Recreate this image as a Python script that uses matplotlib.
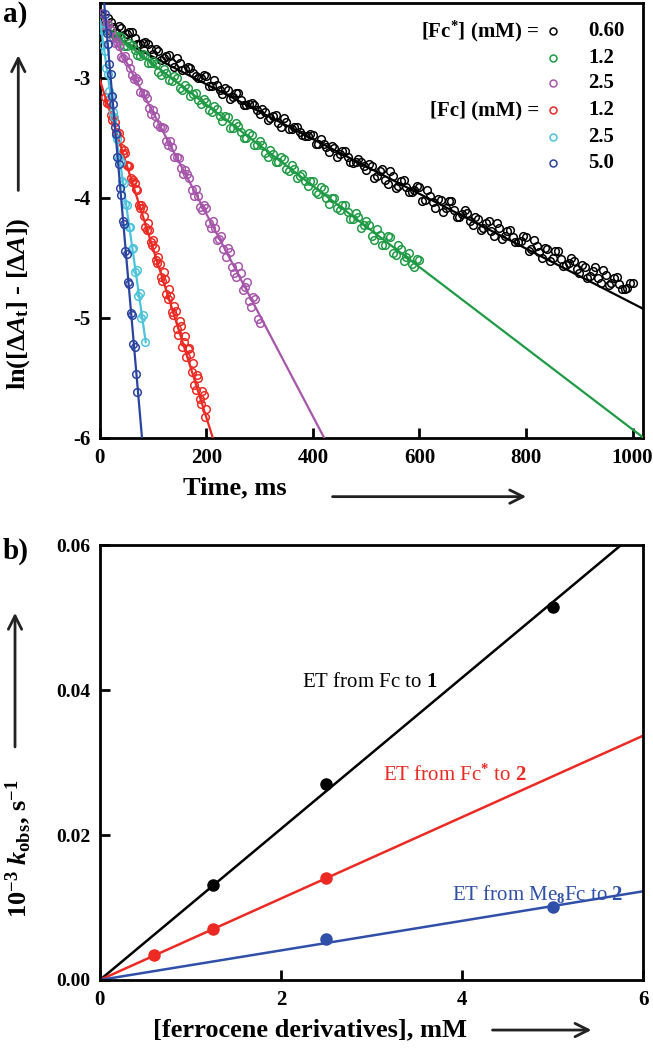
import numpy as np
import matplotlib
matplotlib.use("Agg")
import matplotlib.pyplot as plt
from matplotlib.patches import FancyArrowPatch

plt.rcParams['font.family'] = ['Liberation Serif', 'DejaVu Serif']
plt.rcParams['font.weight'] = 'bold'
plt.rcParams['axes.unicode_minus'] = False
plt.rcParams['mathtext.fontset'] = 'custom'
plt.rcParams['mathtext.rm'] = 'Liberation Serif'
plt.rcParams['mathtext.it'] = 'Liberation Serif:italic:bold'
plt.rcParams['mathtext.bf'] = 'Liberation Serif:bold'

# ---- panel a: ln(dA) decays (two interleaved read-offs per trace) ----
t_black = [0, 10, 20, 30, 40, 50, 60, 70, 80, 90, 100, 110, 120, 130, 140, 150, 160, 170, 180, 190,
           200, 210, 220, 230, 240, 250, 260, 270, 280, 290, 300, 310, 320, 330, 340, 350, 360, 370, 380, 390,
           400, 410, 420, 430, 440, 450, 460, 470, 480, 490, 500, 510, 520, 530, 540, 550, 560, 570, 580, 590,
           600, 610, 620, 630, 640, 650, 660, 670, 680, 690, 700, 710, 720, 730, 740, 750, 760, 770, 780, 790,
           800, 810, 820, 830, 840, 850, 860, 870, 880, 890, 900, 910, 920, 930, 940, 950, 960, 970, 980, 990, 1000]
y_black = [-2.47, -2.55, -2.54, -2.62, -2.59, -2.64, -2.62, -2.72, -2.71, -2.72,
           -2.80, -2.78, -2.84, -2.81, -2.91, -2.88, -2.93, -2.92, -2.99, -3.00,
           -2.99, -3.07, -3.06, -3.14, -3.10, -3.16, -3.13, -3.23, -3.22, -3.23,
           -3.30, -3.29, -3.34, -3.31, -3.41, -3.37, -3.43, -3.41, -3.48, -3.49,
           -3.48, -3.55, -3.55, -3.62, -3.59, -3.64, -3.61, -3.70, -3.70, -3.70,
           -3.77, -3.74, -3.82, -3.76, -3.89, -3.82, -3.90, -3.85, -3.95, -3.94,
           -3.91, -4.02, -3.99, -4.09, -4.02, -4.09, -4.03, -4.16, -4.14, -4.13,
           -4.23, -4.18, -4.25, -4.19, -4.32, -4.25, -4.32, -4.27, -4.37, -4.36,
           -4.33, -4.43, -4.40, -4.50, -4.43, -4.50, -4.44, -4.57, -4.54, -4.53,
           -4.63, -4.58, -4.65, -4.58, -4.71, -4.64, -4.71, -4.66, -4.76, -4.75, -4.71]
t_black2 = [5, 15, 25, 35, 45, 55, 65, 75, 85, 95, 105, 115, 125, 135, 145, 155, 165, 175, 185, 195,
            205, 215, 225, 235, 245, 255, 265, 275, 285, 295, 305, 315, 325, 335, 345, 355, 365, 375, 385, 395,
            405, 415, 425, 435, 445, 455, 465, 475, 485, 495, 505, 515, 525, 535, 545, 555, 565, 575, 585, 595,
            605, 615, 625, 635, 645, 655, 665, 675, 685, 695, 705, 715, 725, 735, 745, 755, 765, 775, 785, 795,
            805, 815, 825, 835, 845, 855, 865, 875, 885, 895, 905, 915, 925, 935, 945, 955, 965, 975, 985, 995]
y_black2 = [-2.54, -2.50, -2.58, -2.57, -2.66, -2.62, -2.67, -2.72, -2.70, -2.76,
            -2.76, -2.85, -2.82, -2.88, -2.84, -2.94, -2.91, -2.96, -3.00, -2.98,
            -3.07, -3.02, -3.10, -3.09, -3.18, -3.13, -3.19, -3.23, -3.21, -3.27,
            -3.26, -3.35, -3.32, -3.38, -3.34, -3.43, -3.41, -3.45, -3.49, -3.47,
            -3.55, -3.51, -3.58, -3.57, -3.66, -3.61, -3.66, -3.71, -3.68, -3.74,
            -3.72, -3.84, -3.78, -3.85, -3.78, -3.92, -3.86, -3.91, -3.95, -3.90,
            -4.03, -3.94, -4.04, -4.01, -4.12, -4.03, -4.10, -4.16, -4.10, -4.19,
            -4.16, -4.27, -4.21, -4.28, -4.21, -4.34, -4.28, -4.33, -4.37, -4.32,
            -4.44, -4.35, -4.45, -4.42, -4.53, -4.44, -4.51, -4.56, -4.50, -4.59,
            -4.56, -4.67, -4.61, -4.67, -4.60, -4.73, -4.67, -4.72, -4.76, -4.71]

t_green = [0, 10, 20, 30, 40, 50, 60, 70, 80, 90, 100, 110, 120, 130, 140, 150, 160, 170, 180, 190,
           200, 210, 220, 230, 240, 250, 260, 270, 280, 290, 300, 310, 320, 330, 340, 350, 360, 370, 380, 390,
           400, 410, 420, 430, 440, 450, 460, 470, 480, 490, 500, 510, 520, 530, 540, 550, 560, 570, 580, 590, 600]
y_green = [-2.53, -2.60, -2.60, -2.67, -2.66, -2.74, -2.73, -2.81, -2.80, -2.88,
           -2.86, -2.95, -2.93, -3.02, -2.99, -3.09, -3.06, -3.15, -3.13, -3.22,
           -3.20, -3.29, -3.26, -3.36, -3.33, -3.42, -3.40, -3.50, -3.46, -3.56,
           -3.53, -3.63, -3.60, -3.70, -3.66, -3.76, -3.73, -3.84, -3.80, -3.90,
           -3.86, -3.97, -3.93, -4.05, -4.00, -4.10, -4.06, -4.18, -4.13, -4.25,
           -4.19, -4.32, -4.26, -4.39, -4.32, -4.46, -4.39, -4.53, -4.46, -4.58, -4.52]
t_green2 = [5, 15, 25, 35, 45, 55, 65, 75, 85, 95, 105, 115, 125, 135, 145, 155, 165, 175, 185, 195,
            205, 215, 225, 235, 245, 255, 265, 275, 285, 295, 305, 315, 325, 335, 345, 355, 365, 375, 385, 395,
            405, 415, 425, 435, 445, 455, 465, 475, 485, 495, 505, 515, 525, 535, 545, 555, 565, 575, 585, 595]
y_green2 = [-2.60, -2.56, -2.64, -2.65, -2.74, -2.71, -2.77, -2.82, -2.81, -2.88,
            -2.89, -2.98, -2.96, -3.03, -3.00, -3.10, -3.09, -3.14, -3.19, -3.18,
            -3.27, -3.24, -3.32, -3.32, -3.42, -3.38, -3.45, -3.50, -3.48, -3.56,
            -3.56, -3.66, -3.64, -3.70, -3.68, -3.78, -3.76, -3.82, -3.86, -3.86,
            -3.95, -3.91, -4.00, -4.00, -4.09, -4.06, -4.12, -4.18, -4.16, -4.23,
            -4.23, -4.35, -4.31, -4.39, -4.33, -4.48, -4.43, -4.49, -4.55, -4.51]

t_purple = [4, 12, 20, 28, 36, 44, 52, 60, 68, 76, 84, 92, 100, 108, 116, 124, 132, 140, 148,
            156, 164, 172, 180, 188, 196, 204, 212, 220, 228, 236, 244, 252, 260, 268, 276, 284, 292, 300]
y_purple = [-2.46, -2.57, -2.60, -2.71, -2.74, -2.84, -2.87, -2.98, -3.00, -3.12, -3.14, -3.25, -3.27,
            -3.39, -3.41, -3.53, -3.53, -3.66, -3.67, -3.80, -3.80, -3.94, -3.93, -4.08, -4.06,
            -4.21, -4.19, -4.35, -4.32, -4.49, -4.45, -4.63, -4.57, -4.77, -4.70, -4.91, -4.84, -5.04]
t_purple2 = [8, 16, 24, 32, 40, 48, 56, 64, 72, 80, 88, 96, 104, 112, 120, 128, 136, 144, 152,
             160, 168, 176, 184, 192, 200, 208, 216, 224, 232, 240, 248, 256, 264, 272, 280, 288, 296]
y_purple2 = [-2.55, -2.55, -2.66, -2.70, -2.83, -2.82, -2.92, -3.01, -3.03, -3.13, -3.17, -3.30, -3.32,
             -3.41, -3.42, -3.56, -3.58, -3.66, -3.75, -3.77, -3.84, -3.99, -3.99, -4.10, -4.09,
             -4.25, -4.25, -4.34, -4.43, -4.42, -4.58, -4.66, -4.63, -4.74, -4.86, -4.83, -5.01]

t_red = [10, 15, 20, 25, 30, 35, 40, 45, 50, 55, 60, 65, 70, 75, 80, 85, 90, 95, 100, 105,
         110, 115, 120, 125, 130, 135, 140, 145, 150, 155, 160, 165, 170, 175, 180, 185, 190, 195, 200]
y_red = [-3.16, -3.19, -3.31, -3.33, -3.45, -3.46, -3.59, -3.60, -3.73, -3.74, -3.87, -3.88, -3.94,
         -4.09, -4.09, -4.24, -4.21, -4.37, -4.35, -4.52, -4.49, -4.66, -4.62, -4.80, -4.76, -4.95,
         -4.90, -5.09, -5.03, -5.24, -5.15, -5.26, -5.30, -5.38, -5.60, -5.50, -5.72, -5.64, -5.76]
t_red2 = [12.5, 17.5, 22.5, 27.5, 32.5, 37.5, 42.5, 47.5, 52.5, 57.5, 62.5, 67.5, 72.5, 77.5, 82.5,
          87.5, 92.5, 97.5, 102.5, 107.5, 112.5, 117.5, 122.5, 127.5, 132.5, 137.5, 142.5, 147.5,
          152.5, 157.5, 162.5, 167.5, 172.5, 177.5, 182.5, 187.5, 192.5, 197.5]
y_red2 = [-3.21, -3.22, -3.35, -3.37, -3.47, -3.51, -3.64, -3.63, -3.74, -3.84, -3.85, -3.93, -4.06,
          -4.06, -4.15, -4.27, -4.27, -4.39, -4.42, -4.54, -4.55, -4.69, -4.68, -4.84, -4.82, -4.98,
          -4.94, -5.14, -5.07, -5.20, -5.33, -5.25, -5.45, -5.56, -5.48, -5.68, -5.61, -5.83]

t_cyan = [3, 6, 9, 12, 15, 18, 21, 24, 27, 30, 33, 36, 39, 42, 45, 48, 51, 54, 57, 60,
          63, 66, 69, 72, 75, 78, 81, 84]
y_cyan = [-2.60, -2.73, -2.78, -2.92, -2.97, -3.11, -3.15, -3.29, -3.33, -3.48, -3.51, -3.67, -3.70,
          -3.86, -3.88, -4.05, -4.06, -4.24, -4.24, -4.43, -4.42, -4.62, -4.60, -4.82, -4.79,
          -5.00, -4.98, -5.20]

t_blue = [10, 12.5, 15, 17.5, 20, 22.5, 25, 27.5, 30, 32.5, 35, 37.5, 40, 42.5, 45, 47.5, 50,
          52.5, 55, 57.5, 60, 62.5, 65, 67.5, 70]
y_blue = [-2.47, -2.63, -2.72, -2.89, -2.97, -3.15, -3.22, -3.41, -3.47, -3.66, -3.72, -3.92, -3.98,
          -4.19, -4.22, -4.44, -4.47, -4.70, -4.72, -4.96, -4.98, -5.22, -5.24, -5.47, -5.62]

# fitted lines: intercept, slope (per ms), end time
fit_icpt = [-2.60, -2.55, -2.45, -3.02, -2.52, -1.97]
fit_slope = [-0.00228, -0.00338, -0.00843, -0.01406, -0.0312, -0.0510]
fit_tend = [1020, 1020, 421, 212, 86, 79]

series_t = [t_black + t_black2, t_green + t_green2, t_purple + t_purple2, t_red + t_red2, t_cyan, t_blue]
series_y = [y_black + y_black2, y_green + y_green2, y_purple + y_purple2, y_red + y_red2, y_cyan, y_blue]
colors_a = ['#000000', '#1f9a45', '#a656aa', '#ec2a24', '#4cc3db', '#2b43a0']
conc_labels = ['0.60', '1.2', '2.5', '1.2', '2.5', '5.0']
group_labels = {0: r'[Fc$^{\mathbf{*}}$] (mM) =', 3: '[Fc] (mM) ='}

# ---- panel b: k_obs vs concentration ----
conc_fc = [1.25, 2.5, 5.0]
k_fc = [0.0131, 0.0271, 0.0515]
conc_fcs = [0.6, 1.25, 2.5]
k_fcs = [0.0035, 0.0071, 0.0141]
conc_me8 = [2.5, 5.0]
k_me8 = [0.0056, 0.0101]
slopes_b = [0.01043, 0.00562, 0.00204]
colors_b = ['#000000', '#ec2a24', '#2f4fa8']
labels_b = [r'ET from Fc to $\mathbf{1}$', r'ET from Fc$^{*}$ to $\mathbf{2}$',
            r'ET from Me$_{8}$Fc to $\mathbf{2}$']
label_pos_b = [(2.23, 0.0410), (3.13, 0.0283), (3.89, 0.0118)]

fig = plt.figure(figsize=(6.53, 10.5), dpi=100)
ax1 = fig.add_axes([0.153, 0.583, 0.832, 0.414])
ax2 = fig.add_axes([0.153, 0.0667, 0.832, 0.414])

for ax in (ax1, ax2):
    for s in ax.spines.values():
        s.set_linewidth(2.0)
    ax.tick_params(direction='in', length=7, width=2, labelsize=15, pad=7,
                   top=False, right=False)

# panel a
for i in range(6):
    ax1.plot(series_t[i], series_y[i], 'o', mfc='none', mec=colors_a[i], ms=5.5, mew=1.1,
             zorder=2 + i)
    tt = np.array([0, fit_tend[i]])
    ax1.plot(tt, fit_icpt[i] + fit_slope[i] * tt, '-', color=colors_a[i], lw=1.6, zorder=2 + i)

ax1.set_xlim(0, 1020)
ax1.set_ylim(-6, -2.38)
ax1.set_xticks([0, 200, 400, 600, 800, 1000])
ax1.set_yticks([-6, -5, -4, -3])

rows_y = [0.936, 0.874, 0.816, 0.754, 0.692, 0.632]
for i in range(6):
    ax1.plot([0.834], [rows_y[i]], 'o', mfc='none', mec=colors_a[i], ms=5, mew=1.1,
             transform=ax1.transAxes, clip_on=False, zorder=20)
    ax1.text(0.899, rows_y[i], conc_labels[i], transform=ax1.transAxes, fontsize=15,
             ha='left', va='center')
    if i in group_labels:
        ax1.text(0.808, rows_y[i], group_labels[i], transform=ax1.transAxes, fontsize=15,
                 ha='right', va='center')

# panel b
xx = np.array([0, 6])
pts = [(conc_fc, k_fc), (conc_fcs, k_fcs), (conc_me8, k_me8)]
for i in range(3):
    ax2.plot(xx, slopes_b[i] * xx, '-', color=colors_b[i], lw=1.8, zorder=2)
    ax2.plot(pts[i][0], pts[i][1], 'o', color=colors_b[i], ms=8, zorder=3)
    ax2.text(label_pos_b[i][0], label_pos_b[i][1], labels_b[i], color=colors_b[i],
             fontsize=15, fontweight='normal', ha='left', va='center')

ax2.set_xlim(0, 6)
ax2.set_ylim(0, 0.06)
ax2.set_xticks([0, 2, 4, 6])
ax2.set_yticks([0, 0.02, 0.04, 0.06])
ax2.set_yticklabels(['0.00', '0.02', '0.04', '0.06'])
ax2.tick_params(axis='y', labelsize=14)

# axis labels with arrows, in figure fraction
arrow = dict(arrowstyle='->', lw=2.0, color='#222222', mutation_scale=24)
fig.text(0.028, 0.711, r'ln([$\Delta\mathit{A}_{\mathbf{t}}$] - [$\Delta\mathit{A}$])',
         rotation=90, ha='center', va='center', fontsize=19)
fig.add_artist(FancyArrowPatch((0.028, 0.816), (0.028, 0.950), transform=fig.transFigure, **arrow))
fig.text(0.360, 0.535, 'Time, ms', ha='center', va='center', fontsize=19)
fig.add_artist(FancyArrowPatch((0.505, 0.527), (0.810, 0.527), transform=fig.transFigure, **arrow))

fig.text(0.027, 0.192, r'10$^{\mathbf{-3}}$ $\mathit{k}_{\mathbf{obs}}$, s$^{\mathbf{-1}}$',
         rotation=90, ha='center', va='center', fontsize=19)
fig.add_artist(FancyArrowPatch((0.023, 0.286), (0.023, 0.419), transform=fig.transFigure, **arrow))
fig.text(0.475, 0.019, '[ferrocene derivatives], mM', ha='center', va='center', fontsize=19)
fig.add_artist(FancyArrowPatch((0.750, 0.019), (0.910, 0.019), transform=fig.transFigure, **arrow))

fig.text(0.004, 0.986, 'a)', fontsize=21, ha='left', va='center')
fig.text(0.004, 0.475, 'b)', fontsize=21, ha='left', va='center')

fig.savefig('out.png', dpi=100)
